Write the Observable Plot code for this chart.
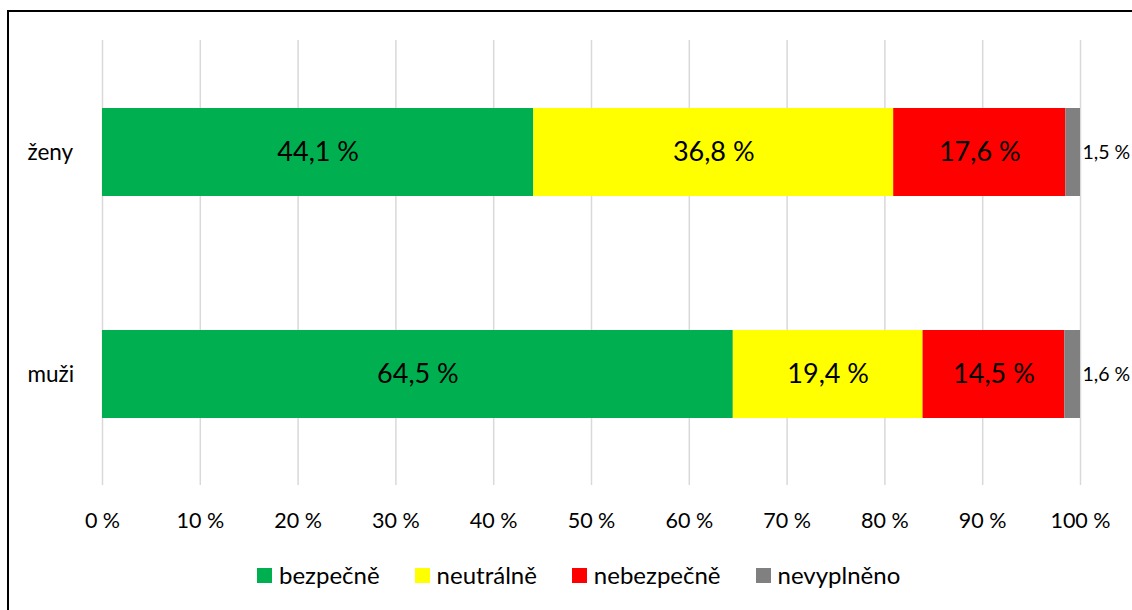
<!DOCTYPE html>
<html>
<head>
<meta charset="utf-8">
<script src="https://cdn.jsdelivr.net/npm/d3@7"></script>
<script src="https://cdn.jsdelivr.net/npm/@observablehq/plot@0.6"></script>
<style>
  html, body { margin: 0; padding: 0; background: #fff; overflow: hidden; width: 1132px; height: 610px; }
  body { position: relative; font-family: Lato, "Open Sans", sans-serif; }
  #frame { position: absolute; left: 7px; top: 10px; width: 1200px; height: 700px; border: 2px solid #000; box-sizing: border-box; }
  #chart { position: absolute; left: 0; top: 0; }
  #legend { position: absolute; left: 257px; top: 561px; display: flex; gap: 35px; font-size: 24px; line-height: 28px; color: #000; align-items: center; }
  #legend .item { display: flex; align-items: center; }
  #legend .sw { width: 15px; height: 15px; margin-right: 7px; display: inline-block; }
</style>
</head>
<body>
<div id="frame"></div>
<div id="chart"></div>
<div id="legend"></div>
<script>
const groups = ["ženy", "muži"];
const categories = ["bezpečně", "neutrálně", "nebezpečně", "nevyplněno"];
const colors = ["#00b050", "#ffff00", "#ff0000", "#808080"];
const valuesZeny = [44.1, 36.8, 17.6, 1.5];
const valuesMuzi = [64.5, 19.4, 14.5, 1.6];
const xTicks = [0, 10, 20, 30, 40, 50, 60, 70, 80, 90, 100];

const seriesByGroup = { "ženy": valuesZeny, "muži": valuesMuzi };
const data = [];
for (const g of groups) {
  categories.forEach((c, i) => data.push({ group: g, cat: c, value: seriesByGroup[g][i] }));
}
const fmt = v => v.toFixed(1).replace(".", ",") + " %";
const last = categories[categories.length - 1];

const plot = Plot.plot({
  width: 1132,
  height: 550,
  marginLeft: 102,
  marginRight: 52,
  marginTop: 40,
  marginBottom: 65,
  style: { fontFamily: "Lato, 'Open Sans', sans-serif", background: "transparent", color: "#000" },
  x: { domain: [0, 100] },
  y: { domain: groups, paddingInner: 0.604, paddingOuter: 0.304 },
  color: { domain: categories, range: colors },
  marks: [
    Plot.gridX(xTicks, { stroke: "#d9d9d9", strokeOpacity: 1, strokeWidth: 1.5 }),
    Plot.barX(data, Plot.stackX({ x: "value", y: "group", z: "cat", fill: "cat" })),
    Plot.text(data, Plot.stackX({
      x: "value", y: "group", z: "cat",
      text: d => d.cat === last ? "" : fmt(d.value),
      fontSize: 27, fill: "#000"
    })),
    Plot.text(data, Plot.stackX2({
      x: "value", y: "group", z: "cat",
      text: d => d.cat === last ? fmt(d.value) : "",
      textAnchor: "start", dx: 2, fontSize: 19.5, fill: "#000"
    })),
    Plot.axisX({ ticks: xTicks, tickFormat: d => d + " %", tickSize: 0, tickPadding: 27, fontSize: 21.5, label: null }),
    Plot.axisY({ tickSize: 0, tickPadding: 75, textAnchor: "start", fontSize: 22.5, label: null })
  ]
});
document.getElementById("chart").appendChild(plot);

const legend = document.getElementById("legend");
categories.forEach((c, i) => {
  const item = document.createElement("div");
  item.className = "item";
  const sw = document.createElement("span");
  sw.className = "sw";
  sw.style.background = colors[i];
  const t = document.createElement("span");
  t.textContent = c;
  item.appendChild(sw);
  item.appendChild(t);
  legend.appendChild(item);
});
</script>
</body>
</html>
